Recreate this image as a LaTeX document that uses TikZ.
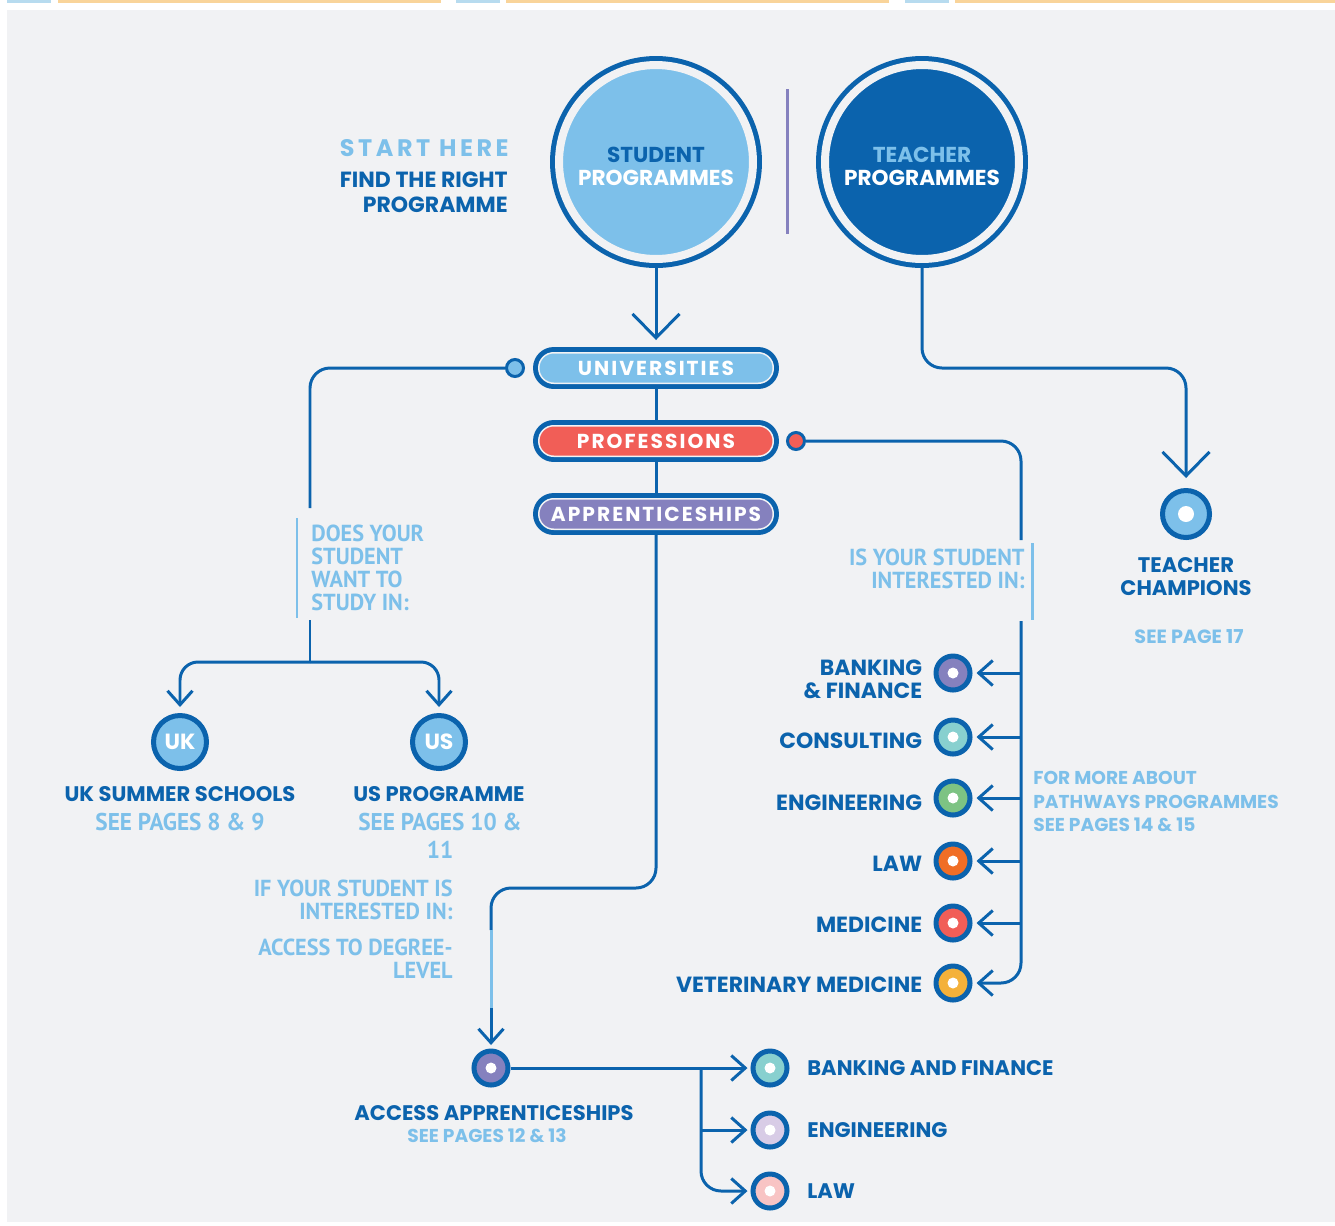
\documentclass[tikz,border=0pt]{standalone}
\usepackage{fontspec}
\setmainfont{Poppins}
\newfontfamily\condfont[FakeStretch=0.96]{PT Sans}
\usetikzlibrary{arrows.meta,positioning,calc}

\definecolor{navy}{HTML}{0B63AD}
\definecolor{sky}{HTML}{7DC0EA}
\definecolor{panel}{HTML}{F1F2F4}
\definecolor{lilac}{HTML}{8581BE}
\definecolor{coral}{HTML}{F15E57}
\definecolor{cteal}{HTML}{88D0CF}
\definecolor{cgreen}{HTML}{7DC383}
\definecolor{corange}{HTML}{F06E26}
\definecolor{cyellow}{HTML}{F4B13A}
\definecolor{clavender}{HTML}{D8CCE6}
\definecolor{cpink}{HTML}{F8C4C4}
\definecolor{stripblue}{HTML}{B7DBEF}
\definecolor{striporange}{HTML}{F9D49A}

\newcommand\circfont{\fontsize{12.3}{13.1}\selectfont\bfseries}
\newcommand\pillfont{\fontsize{11.5}{13}\selectfont\bfseries\addfontfeature{LetterSpace=10}}
\newcommand\labfont{\fontsize{12.5}{13.1}\selectfont\bfseries}
\newcommand\condtext{\condfont\bfseries\fontsize{13.2}{13.1}\selectfont}
\newcommand\smallbold{\fontsize{10.6}{13.4}\selectfont\bfseries}

\tikzset{
    conn/.style={navy, line width=1.7pt},
    bigbarb/.style={-{Straight Barb[length=0.48cm, width=0.94cm]}},
    barb/.style={-{Straight Barb[length=0.28cm, width=0.5cm]}},
    ringed/.style={circle, minimum size=3.88cm, inner sep=0pt, outer sep=0.18cm,
        fill=#1, draw=panel, line width=4.55pt,
        preaction={draw=navy, line width=10.24pt}},
    ringtext/.style={inner sep=0pt, align=center, font=\circfont},
    pill/.style={rectangle, rounded corners=0.3cm, minimum width=4.69cm,
        minimum height=0.61cm, inner sep=0pt, outer sep=0.115cm,
        fill=#1, draw=panel, line width=0.85pt,
        preaction={draw=navy, line width=6.5pt}, text=white, font=\pillfont},
    dot/.style={circle, minimum size=0.68cm, inner sep=0pt, outer sep=0.05cm,
        fill=#1, draw=navy, line width=2.85pt,
        path picture={\fill[white] (path picture bounding box.center) circle (0.11cm);}},
    tipdot/.style={circle, minimum size=0.34cm, inner sep=0pt, fill=#1,
        draw=navy, line width=1.7pt},
    country/.style={circle, minimum size=1.06cm, inner sep=0pt, outer sep=0.05cm,
        fill=sky, draw=navy, line width=2.85pt, text=white, font=\labfont},
    navylab/.style={inner sep=0pt, text=navy, font=\labfont},
    condlab/.style={inner sep=0pt, text=sky, font=\condtext},
    skybar/.style={sky, line width=1.7pt}
}

\begin{document}
\begin{tikzpicture}[x=0.02cm, y=-0.02cm]
\useasboundingbox (0,0) rectangle (1335,1225);
\fill[white] (0,0) rectangle (1335,1225);
\fill[panel] (7,10) rectangle (1335,1222);

% strip along the top
\foreach \a/\b/\c in {7/51/stripblue, 58/441/striporange, 456/500/stripblue,
    506/889/striporange, 905/949/stripblue, 955/1335/striporange}
    \fill[\c] (\a,0) rectangle (\b,3);

\draw[lilac, line width=1.7pt] (787,89) -- (787,234);

% heading
\node[anchor=north east, inner sep=0pt, text=sky,
    font=\fontsize{13.6}{14}\selectfont\bfseries\addfontfeature{LetterSpace=15}]
    (starthere) at (509,139) {START HERE};
\node[anchor=north east, align=right, inner sep=0pt, text=navy,
    font=\fontsize{12.5}{13.9}\selectfont\bfseries]
    (findprog) at (508,172) {FIND THE RIGHT\\PROGRAMME};

% programme circles
\node[ringed=sky] (student) at (656,162) {};
\node[ringed=navy] (teacher) at (922,162) {};
\node[ringtext] (studtext) at (656,166)
    {\textcolor{navy}{STUDENT}\\\textcolor{white}{PROGRAMMES}};
\node[ringtext] (teachtext) at (922,166)
    {\textcolor{sky}{TEACHER}\\\textcolor{white}{PROGRAMMES}};

% pills
\node[pill=sky] (univ) at (656,368) {UNIVERSITIES};
\node[pill=coral] (prof) at (656,441) {PROFESSIONS};
\node[pill=lilac] (appr) at (656,514) {APPRENTICESHIPS};
\node[tipdot=sky] (udot) at (515,368) {};
\node[tipdot=coral] (pdot) at (796,441) {};

\draw[conn, bigbarb, shorten >=0.14cm] (student) -- (univ);
\draw[conn] (univ) -- (prof);
\draw[conn] (prof) -- (appr);

% universities branch
\coordinate (lgapa) at (310,508);
\coordinate (lgapb) at (310,620);
\coordinate (lfork) at (310,662);
\node[country] (uk) at (180,742) {UK};
\node[country] (us) at (439,742) {US};
\draw[conn, rounded corners=0.4cm] (udot) -| (lgapa);
\draw[conn] (lgapb) -- (lfork);
\draw[conn, rounded corners=0.36cm, barb, shorten >=0.12cm] (lfork) -| (uk);
\draw[conn, rounded corners=0.36cm, barb, shorten >=0.12cm] (lfork) -| (us);
\draw[skybar] (297,518) -- (297,618);
\node[condlab, anchor=north west, align=left] (studyq) at (311,525)
    {DOES YOUR\\STUDENT\\WANT TO\\STUDY IN:};

\node[navylab, anchor=north, font=\fontsize{12}{13}\selectfont\bfseries] (uklab) at (180,786) {UK SUMMER SCHOOLS};
\node[condlab, anchor=north, font=\condtext\fontsize{13.8}{16}\selectfont] (ukpages) at (180,813) {SEE PAGES 8 \& 9};
\node[navylab, anchor=north, font=\fontsize{12}{13}\selectfont\bfseries] (uslab) at (439,786) {US PROGRAMME};
\node[condlab, anchor=north, align=center, font=\condtext\fontsize{13.8}{16}\selectfont]
    (uspages) at (440,813) {SEE PAGES 10 \&\\11};

% professions branch
\coordinate (rgapa) at (1021,540);
\coordinate (rgapb) at (1021,621);
\node[dot=lilac] (bankdot) at (953,673) {};
\node[dot=cteal] (consdot) at (953,737) {};
\node[dot=cgreen] (engdot) at (953,798) {};
\node[dot=corange] (lawdot) at (953,861) {};
\node[dot=coral] (meddot) at (953,923) {};
\node[dot=cyellow] (vetdot) at (953,983) {};
\draw[conn, rounded corners=0.4cm] (pdot) -| (rgapa);
\draw[conn, rounded corners=0.4cm, barb, shorten >=0.08cm] (rgapb) |- (vetdot);
\foreach \d in {bankdot,consdot,engdot,lawdot,meddot}
    \draw[conn, barb, shorten >=0.08cm] (rgapb |- \d) -- (\d);
\draw[skybar] (1032,543) -- (1032,620);
\node[condlab, anchor=north east, align=right] (interq) at (1025,549)
    {IS YOUR STUDENT\\INTERESTED IN:};

\node[navylab, align=right, left=0.22cm of bankdot, yshift=-0.12cm] (banklab) {BANKING\\\& FINANCE};
\node[navylab, left=0.22cm of consdot, yshift=-0.07cm] (conslab) {CONSULTING};
\node[navylab, left=0.22cm of engdot, yshift=-0.09cm] (englab) {ENGINEERING};
\node[navylab, left=0.22cm of lawdot, yshift=-0.06cm] (lawlab) {LAW};
\node[navylab, left=0.22cm of meddot, yshift=-0.04cm] (medlab) {MEDICINE};
\node[navylab, left=0.22cm of vetdot, yshift=-0.04cm] (vetlab) {VETERINARY MEDICINE};

\node[inner sep=0pt, anchor=north west, align=left, text=sky, font=\smallbold]
    (pathways) at (1033,771) {FOR MORE ABOUT\\PATHWAYS PROGRAMMES\\SEE PAGES 14 \& 15};

% teacher branch
\coordinate (tturn) at (1186,368);
\node[dot=sky, minimum size=0.94cm,
    path picture={\fill[white] (path picture bounding box.center) circle (0.16cm);}]
    (champ) at (1186,514) {};
\draw[conn, rounded corners=0.4cm, bigbarb, shorten >=0.2cm] (teacher) |- (tturn) -- (champ);
\node[navylab, anchor=north, align=center, font=\fontsize{12}{13.1}\selectfont\bfseries]
    (champlab) at (1186,557) {TEACHER\\CHAMPIONS};
\node[inner sep=0pt, anchor=north, text=sky, font=\fontsize{10.9}{12}\selectfont\bfseries]
    (champpage) at (1189,629) {SEE PAGE 17};

% apprenticeships branch
\coordinate (aturn) at (491,888);
\coordinate (agapa) at (491,930);
\coordinate (agapb) at (491,1008);
\coordinate (afork) at (701,1068);
\node[dot=lilac] (adot) at (491,1068) {};
\node[dot=cteal] (abank) at (770,1068) {};
\node[dot=clavender] (aeng) at (770,1130) {};
\node[dot=cpink] (alaw) at (770,1191) {};
\draw[conn, rounded corners=0.4cm] (appr) |- (aturn) -- (agapa);
\draw[skybar] (agapa) -- (agapb);
\draw[conn, barb, shorten >=0.07cm] (agapb) -- (adot);
\draw[conn, barb, shorten >=0.06cm] (adot) -- (abank);
\draw[conn, barb, shorten >=0.06cm] (afork |- aeng) -- (aeng);
\draw[conn, rounded corners=0.4cm, barb, shorten >=0.06cm] (afork) |- (alaw);

\node[condlab, anchor=north east, align=right] (ifq) at (453,880)
    {IF YOUR STUDENT IS\\INTERESTED IN:};
\node[condlab, anchor=north east, align=right] (degree) at (453,939)
    {ACCESS TO DEGREE-\\LEVEL};

\node[navylab, anchor=north, font=\fontsize{12}{13}\selectfont\bfseries] (applab) at (494,1105) {ACCESS APPRENTICESHIPS};
\node[inner sep=0pt, anchor=north, text=sky, font=\fontsize{10.6}{12}\selectfont\bfseries]
    (apppages) at (487,1128) {SEE PAGES 12 \& 13};

\node[navylab, right=0.35cm of abank, font=\fontsize{12}{13}\selectfont\bfseries] (abanklab) {BANKING AND FINANCE};
\node[navylab, right=0.35cm of aeng, font=\fontsize{12}{13}\selectfont\bfseries] (aenglab) {ENGINEERING};
\node[navylab, right=0.35cm of alaw, font=\fontsize{12}{13}\selectfont\bfseries] (alawlab) {LAW};
\end{tikzpicture}
\end{document}
